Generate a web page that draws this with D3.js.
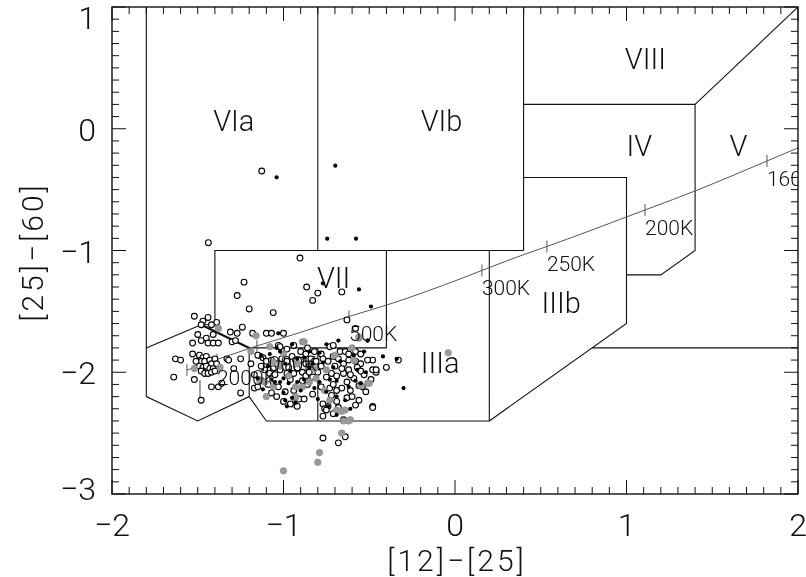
<!DOCTYPE html>
<html><head><meta charset="utf-8">
<script src="https://cdn.jsdelivr.net/npm/d3@7"></script>
<style>
body{margin:0;background:#fff;}
svg{filter:grayscale(100%);}
text{font-family:Roboto,"DejaVu Sans",sans-serif;font-weight:300;fill:#111;}
</style></head>
<body><svg id="chart" width="806" height="577"></svg>
<script>
// ---------------- data ----------------
const xTickLabels = [-2,-1,0,1,2];
const yTickLabels = [-3,-2,-1,0,1];
const xTitle = "[12]\u2212[25]";
const yTitle = "[25]\u2212[60]";

// region boundary polylines ([12]-[25], [25]-[60])
const regionLines = [
  [[-1.8,1.0],[-1.8,-2.2],[-1.5,-2.4],[-1.2,-2.2],[-1.2,-1.8]],
  [[-1.8,-1.8],[-1.48,-1.61]],
  [[-1.48,-1.61],[-1.4,-1.61],[-1.4,-1.0],[0.4,-1.0]],
  [[-0.8,1.0],[-0.8,-1.0]],
  [[0.4,1.0],[0.4,-1.0]],
  [[-0.4,-1.0],[-0.4,-1.8],[-1.2,-1.8]],
  [[-1.2,-2.2],[-1.1,-2.4],[0.2,-2.4],[0.2,-1.0]],
  [[-0.8,-1.8],[-0.8,-2.4]],
  [[0.2,-2.4],[1.0,-1.6],[1.0,-0.4],[0.4,-0.4]],
  [[0.8,-1.8],[2.0,-1.8]],
  [[1.0,-1.2],[1.2,-1.2],[1.4,-1.0],[1.4,0.2],[0.4,0.2]],
  [[1.4,0.2],[2.0,1.0]]
];
const thickLine = [[-1.48,-1.61],[-1.2,-1.8]];

const regionNames = ["VIa","VIb","VIII","IV","V","VII","IIIa","IIIb"];
const regionLabelPos = [[-1.41,-0.02],[-0.20,-0.02],[0.99,0.49],[1.00,-0.22],[1.60,-0.22],[-0.805,-1.31],[-0.20,-2.01],[0.505,-1.515]];

// blackbody curve
const bbCurve = [[-1.563,-1.982],[-1.155,-1.784],[-0.904,-1.674],[-0.618,-1.542],[-0.379,-1.439],
  [0.029,-1.234],[0.157,-1.164],[0.379,-1.045],[0.536,-0.967],[1.108,-0.667],[1.429,-0.495],
  [1.819,-0.265],[2.012,-0.150]];
const bbTickLabels = ["","2000K","1000K","500K","300K","250K","200K","160K"];
const bbTickPos = [[-1.563,-1.982],[-1.388,-1.897],[-1.155,-1.784],[-0.618,-1.542],[0.157,-1.164],[0.536,-0.967],[1.108,-0.667],[1.819,-0.265]];
// short vertical marks seen below the hot end of the curve
const extraMarks = [[[-1.487,-2.064],[-1.487,-2.228]],[[-0.945,-2.187],[-0.945,-2.294]]];

// sources
const openPts = [
 [-1.52,-1.54],[-1.44,-1.55],[-1.47,-1.58],[-1.39,-1.59],[-1.48,-1.61],[-1.42,-1.61],[-1.50,-1.69],[-1.45,-1.72],
 [-1.41,-1.69],[-1.53,-1.76],[-1.48,-1.74],[-1.44,-1.76],[-1.41,-1.76],[-1.38,-1.76],[-1.53,-1.85],[-1.49,-1.86],
 [-1.47,-1.88],[-1.45,-1.87],[-1.48,-1.91],[-1.51,-1.91],[-1.46,-1.91],[-1.43,-1.90],[-1.42,-1.93],[-1.40,-1.89],
 [-1.39,-1.93],[-1.49,-1.95],[-1.47,-1.96],[-1.45,-1.95],[-1.43,-1.97],[-1.41,-1.97],[-1.48,-1.99],[-1.46,-2.01],
 [-1.44,-2.01],[-1.42,-2.00],[-1.40,-1.99],[-1.63,-1.89],[-1.60,-1.90],[-1.64,-2.04],[-1.52,-2.06],[-1.48,-2.23],
 [-1.42,-2.12],[-1.38,-2.12],[-1.36,-2.09],[-1.33,-1.89],[-1.32,-1.90],[-1.25,-1.89],[-1.31,-1.67],[-1.27,-1.68],
 [-1.24,-1.63],[-1.30,-1.75],[-1.28,-1.74],[-1.20,-1.48],[-1.06,-1.51],[-1.25,-2.17],[-1.29,-1.97],
 [-1.127,-0.347],[-1.438,-0.936],[-0.904,-1.062],[-1.23,-1.26],[-1.27,-1.37],
 [-0.865,-1.30],[-0.80,-1.35],[-0.83,-1.41],[-0.66,-1.34],[-0.63,-1.57],[-0.58,-1.64],
 [-0.40,-1.96],[-0.46,-2.00],[-0.33,-1.90],[-0.48,-1.90],[-0.48,-2.28],
 [-1.18,-1.68],[-1.10,-1.68],[-1.07,-1.68],[-1.00,-1.68],[-1.03,-1.78],[-1.02,-1.79],[-0.98,-1.81],[-0.94,-1.78],
 [-0.90,-1.83],[-0.87,-1.85],[-0.82,-1.83],[-0.78,-1.85],[-0.73,-1.79],[-0.71,-1.78],[-0.67,-1.83],[-0.64,-1.83],
 [-0.58,-1.83],[-0.55,-1.85],[-1.15,-1.86],[-1.12,-1.88],[-1.10,-1.91],[-1.07,-1.90],[-1.04,-1.93],[-1.01,-1.89],
 [-0.98,-1.91],[-0.95,-1.87],[-0.93,-1.90],[-0.90,-1.90],[-0.87,-1.93],[-0.84,-1.89],[-0.81,-1.91],[-0.77,-1.89],
 [-0.74,-1.91],[-0.71,-1.87],[-0.68,-1.89],[-0.65,-1.93],[-0.62,-1.90],[-0.58,-1.91],[-0.55,-1.93],[-0.51,-1.90],
 [-0.48,-1.98],[-1.11,-1.98],[-1.08,-2.01],[-1.05,-2.02],[-1.02,-1.98],[-0.98,-2.01],[-0.94,-2.01],[-0.89,-2.00],
 [-0.87,-2.03],[-0.83,-2.04],[-0.75,-2.04],[-0.72,-2.01],[-0.69,-2.03],[-0.65,-2.01],[-0.62,-1.98],[-0.59,-2.05],
 [-0.56,-2.11],[-0.54,-2.12],[-0.49,-2.06],[-0.46,-1.98],[-1.17,-2.13],[-1.07,-2.17],[-1.04,-2.20],[-0.99,-2.16],
 [-0.94,-2.15],[-0.91,-2.22],[-0.96,-2.26],[-0.73,-2.13],[-0.69,-2.15],[-0.66,-2.13],[-0.61,-2.15],[-0.77,-2.26],
 [-0.74,-2.28],[-0.63,-2.21],[-0.58,-2.27],[-0.77,-2.36],[-0.71,-2.34],[-0.65,-2.39],[-0.76,-2.30],[-0.68,-2.29],
 [-1.17,-2.02],[-1.15,-2.12],[-1.19,-1.93],
 [-1.13,-1.95],[-1.09,-2.10],[-1.03,-2.12],[-0.97,-1.96],[-0.92,-1.97],[-0.85,-2.00],[-0.80,-2.00],[-0.78,-1.95],
 [-0.70,-1.95],[-0.66,-1.97],[-0.61,-2.02],[-0.57,-1.96],[-0.53,-2.02],[-1.00,-2.24],[-0.86,-2.10],[-0.83,-2.18],
 [-0.71,-2.10],[-0.63,-2.08],[-0.60,-2.20],[-0.52,-2.16],[-1.06,-1.97],[-1.13,-2.07],[-0.96,-2.06],[-0.86,-1.80],
 [-0.62,-1.85],[-0.69,-2.24],[-0.55,-1.99],[-0.89,-2.07],[-0.78,-2.12],[-0.72,-2.19],
 [-0.77,-2.54],[-0.64,-2.53],[-0.68,-2.58],[-0.75,-2.31],[-0.92,-2.28],[-0.88,-2.22],[-0.56,-2.23],[-0.48,-2.29]
];
const greyPts = [
 [-1.38,-1.64],[-1.52,-1.97],[-1.37,-1.96],[-1.19,-1.83],[-1.14,-2.06],
 [-0.56,-1.72],[-0.89,-1.75],[-0.04,-1.84],[-0.50,-2.09],
 [-1.16,-1.70],[-1.08,-1.79],[-0.88,-1.75],[-1.00,-1.85],[-0.60,-1.80],[-0.56,-1.71],[-1.06,-1.92],[-0.92,-1.93],
 [-0.82,-1.97],[-0.75,-1.98],[-0.59,-1.90],[-1.11,-2.08],[-1.06,-2.12],[-0.93,-2.12],[-0.81,-2.05],[-0.55,-2.11],
 [-0.51,-2.09],[-0.89,-2.12],[-0.93,-2.21],[-0.73,-2.23],[-0.69,-2.31],[-0.66,-2.32],[-0.61,-2.39],[-0.64,-2.31],
 [-1.02,-1.95],[-0.85,-2.08],[-0.70,-1.86],[-0.76,-2.15],[-1.10,-2.20],[-0.97,-2.03],
 [-0.79,-2.66],[-0.80,-2.74],[-0.66,-2.50],[-0.65,-2.40],[-0.62,-2.40],[-1.00,-2.81],[-0.93,-2.20]
];
const blackPts = [
 [-1.040,-0.399],[-0.698,-0.303],[-0.745,-0.903],[-0.577,-0.903],
 [-0.77,-1.27],[-0.56,-1.32],[-0.49,-1.46],[-0.51,-1.74],[-0.34,-1.89],[-0.42,-1.87],[-0.30,-2.13],
 [-1.03,-1.68],[-0.68,-1.74],[-0.51,-1.74],[-0.95,-1.77],[-1.04,-1.80],[-0.85,-1.83],[-0.75,-1.77],[-0.79,-1.84],
 [-0.53,-1.83],[-0.59,-1.86],[-1.13,-1.86],[-1.08,-1.85],[-1.02,-1.83],[-0.99,-1.93],[-0.92,-1.89],[-0.88,-1.88],
 [-0.85,-1.96],[-0.77,-1.92],[-0.71,-1.96],[-0.67,-1.91],[-0.57,-1.98],[-0.52,-2.00],[-1.15,-2.05],[-1.07,-2.06],
 [-1.02,-2.08],[-1.00,-2.05],[-0.97,-2.09],[-0.92,-2.08],[-0.88,-2.06],[-0.79,-2.08],[-0.69,-2.07],[-0.58,-2.07],
 [-0.55,-2.09],[-1.12,-2.14],[-1.00,-2.17],[-0.95,-2.21],[-0.90,-2.15],[-0.82,-2.13],[-0.75,-2.16],[-0.69,-2.20],
 [-0.64,-2.23],[-0.69,-2.35],
 [-1.05,-2.08],[-0.96,-1.99],[-0.83,-1.93],[-0.73,-2.06],[-0.62,-2.12],[-0.93,-2.25],[-1.09,-1.95],[-0.80,-2.22],
 [-0.74,-2.28],[-0.98,-2.28],[-0.99,-2.23],[-0.61,-2.30]
];

// ---------------- drawing ----------------
const svg = d3.select("#chart");
const x = d3.scaleLinear().domain([-2,2]).range([112,798]);
const y = d3.scaleLinear().domain([-3,1]).range([494,7]);
const ink = "#111";

svg.append("defs").append("clipPath").attr("id","plotclip")
  .append("rect").attr("x",x(-2)).attr("y",y(1)).attr("width",x(2)-x(-2)).attr("height",y(-3)-y(1));

const plot = svg.append("g").attr("clip-path","url(#plotclip)");
const line = d3.line().x(d=>x(d[0])).y(d=>y(d[1]));

plot.selectAll("path.region").data(regionLines).join("path")
  .attr("class","region").attr("d",line).attr("fill","none")
  .attr("stroke",ink).attr("stroke-width",1.1);
plot.append("path").attr("d",line(thickLine)).attr("fill","none").attr("stroke",ink).attr("stroke-width",2.2);

// blackbody
plot.append("path").attr("d",d3.line().x(d=>x(d[0])).y(d=>y(d[1])).curve(d3.curveMonotoneX)(bbCurve))
  .attr("fill","none").attr("stroke","#555").attr("stroke-width",1);
plot.selectAll("line.bbt").data(bbTickPos).join("line").attr("class","bbt")
  .attr("x1",d=>x(d[0])).attr("x2",d=>x(d[0])).attr("y1",d=>y(d[1])-6).attr("y2",d=>y(d[1])+6)
  .attr("stroke","#555").attr("stroke-width",1);
plot.selectAll("path.xm").data(extraMarks).join("path").attr("class","xm")
  .attr("d",line).attr("stroke","#444").attr("stroke-width",1);

// region labels
plot.selectAll("text.rl").data(regionNames).join("text").attr("class","rl")
  .attr("x",(d,i)=>x(regionLabelPos[i][0])).attr("y",(d,i)=>y(regionLabelPos[i][1]))
  .attr("font-size",29).text(d=>d);

// points
plot.selectAll("circle.op").data(openPts).join("circle").attr("class","op")
  .attr("cx",d=>x(d[0])).attr("cy",d=>y(d[1])).attr("r",2.9)
  .attr("fill","#fff").attr("stroke","#000").attr("stroke-width",1.1);
plot.selectAll("circle.gp").data(greyPts).join("circle").attr("class","gp")
  .attr("cx",d=>x(d[0])).attr("cy",d=>y(d[1])).attr("r",3.3)
  .attr("fill","#9a9a9a").attr("stroke","#8a8a8a").attr("stroke-width",0.6);
plot.selectAll("circle.bp").data(blackPts).join("circle").attr("class","bp")
  .attr("cx",d=>x(d[0])).attr("cy",d=>y(d[1])).attr("r",2.1).attr("fill","#000");

// bb labels (drawn over points)
plot.selectAll("text.bbl").data(bbTickLabels).join("text").attr("class","bbl")
  .attr("x",(d,i)=>x(bbTickPos[i][0])).attr("y",(d,i)=>y(bbTickPos[i][1])+25)
  .attr("font-size",21).attr("fill","#333").text(d=>d);

// frame + ticks
const fr = svg.append("g");
fr.append("rect").attr("x",x(-2)).attr("y",y(1)).attr("width",x(2)-x(-2)).attr("height",y(-3)-y(1))
  .attr("fill","none").attr("stroke",ink).attr("stroke-width",1.4);
const xt = d3.range(-20,21).map(v=>v/10);
const yt = d3.range(-30,11).map(v=>v/10);
const isMaj = v=>Math.abs(v-Math.round(v))<1e-6;
xt.forEach(v=>{
  const L = isMaj(v)?14:7;
  fr.append("line").attr("x1",x(v)).attr("x2",x(v)).attr("y1",y(-3)).attr("y2",y(-3)-L).attr("stroke",ink);
  fr.append("line").attr("x1",x(v)).attr("x2",x(v)).attr("y1",y(1)).attr("y2",y(1)+L).attr("stroke",ink);
});
yt.forEach(v=>{
  const L = isMaj(v)?14:7;
  fr.append("line").attr("y1",y(v)).attr("y2",y(v)).attr("x1",x(-2)).attr("x2",x(-2)+L).attr("stroke",ink);
  fr.append("line").attr("y1",y(v)).attr("y2",y(v)).attr("x1",x(2)).attr("x2",x(2)-L).attr("stroke",ink);
});
const fmt = v=> v<0 ? "\u2212"+Math.abs(v) : String(v);
fr.selectAll("text.xl").data(xTickLabels).join("text").attr("class","xl")
  .attr("x",d=>x(d)).attr("y",536).attr("text-anchor","middle").attr("font-size",32).text(fmt);
fr.selectAll("text.yl").data(yTickLabels).join("text").attr("class","yl")
  .attr("x",96).attr("y",d=>y(d)+12+(d===1?10:0)+(d===-3?-6:0)).attr("text-anchor","end").attr("font-size",32).text(fmt);
fr.append("text").attr("x",457).attr("y",571).attr("text-anchor","middle").attr("font-size",30)
  .attr("letter-spacing",3).text(xTitle);
fr.append("text").attr("transform","translate(43,252) rotate(-90)").attr("text-anchor","middle").attr("font-size",30)
  .attr("letter-spacing",3).text(yTitle);
</script></body></html>
